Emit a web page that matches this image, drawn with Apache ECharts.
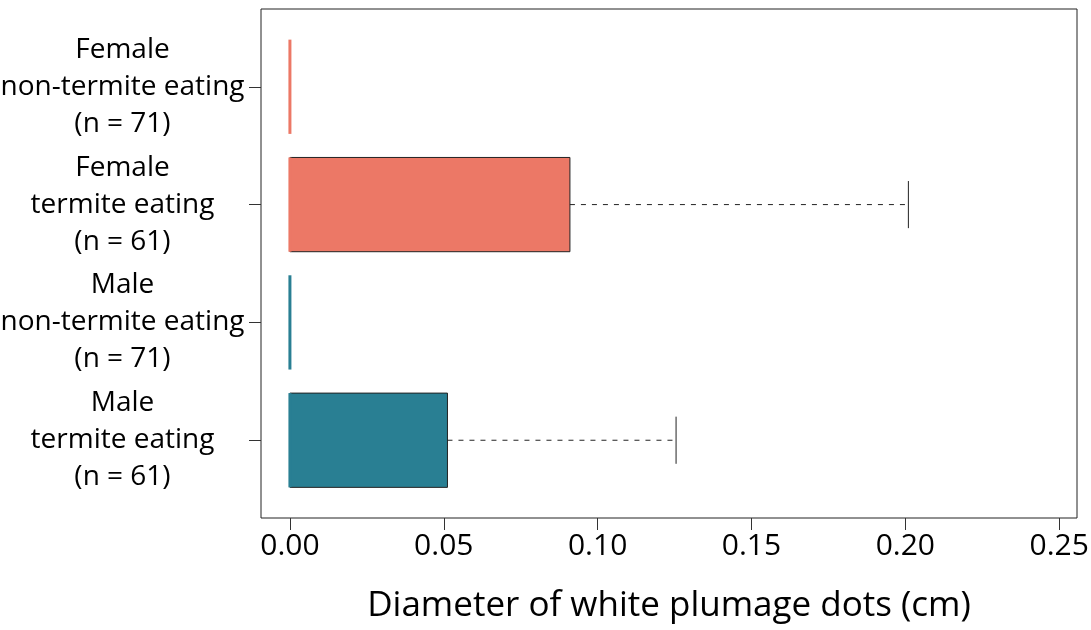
<!DOCTYPE html>
<html>
<head>
<meta charset="utf-8">
<script src="https://cdn.jsdelivr.net/npm/echarts@6/dist/echarts.min.js"></script>
<style>
  html, body { margin: 0; padding: 0; background: #fff; }
  #box_chart { width: 1091px; height: 630px; }
</style>
</head>
<body>
<div id="box_chart"></div>
<script>
// groups from top to bottom
var groupNames = ['Female|non-termite eating|(n = 71)', 'Female|termite eating|(n = 61)', 'Male|non-termite eating|(n = 71)', 'Male|termite eating|(n = 61)']
var groupPos = [1, 2, 3, 4]
var whiskerLow = [0, 0, 0, 0]
var boxLow = [0, 0, 0, 0]
var boxMedian = [0, 0, 0, 0]
var boxHigh = [0, 0.091, 0, 0.0512]
var whiskerHigh = [0, 0.201, 0, 0.1255]
var xTicks = [0, 0.05, 0.10, 0.15, 0.20, 0.25]
var groupColors = ['#EC7866', '#EC7866', '#297F93', '#297F93']

var FONT = 'Open Sans'

var seriesData = groupPos.map(function (p, i) {
  return [p, whiskerLow[i], boxLow[i], boxMedian[i], boxHigh[i], whiskerHigh[i]]
})

function renderBox (params, api) {
  var y = api.value(0)
  var wl = api.value(1)
  var q1 = api.value(2)
  var med = api.value(3)
  var q3 = api.value(4)
  var wh = api.value(5)
  var half = api.size([0, 0.4])[1]
  var c1 = api.coord([q1, y])
  var c3 = api.coord([q3, y])
  var cm = api.coord([med, y])
  var cwl = api.coord([wl, y])
  var cwh = api.coord([wh, y])
  var color = groupColors[params.dataIndex]
  var children = []
  // box
  if (q3 > q1) {
    children.push({
      type: 'rect',
      shape: { x: c1[0], y: c1[1] - half, width: c3[0] - c1[0], height: half * 2 },
      style: { fill: color, stroke: '#222', lineWidth: 1 }
    })
  }
  // 上须
  if (wh > q3) {
    children.push({
      type: 'line',
      shape: { x1: c3[0], y1: c3[1], x2: cwh[0], y2: cwh[1] },
      style: { stroke: '#222', lineWidth: 1, lineDash: [5, 6] }
    })
    children.push({
      type: 'line',
      shape: { x1: cwh[0], y1: cwh[1] - half / 2, x2: cwh[0], y2: cwh[1] + half / 2 },
      style: { stroke: '#222', lineWidth: 1 }
    })
  }
  // 下须
  if (wl < q1) {
    children.push({
      type: 'line',
      shape: { x1: c1[0], y1: c1[1], x2: cwl[0], y2: cwl[1] },
      style: { stroke: '#222', lineWidth: 1, lineDash: [5, 6] }
    })
  }
  // median
  children.push({
    type: 'line',
    shape: { x1: cm[0], y1: cm[1] - half, x2: cm[0], y2: cm[1] + half },
    style: { stroke: color, lineWidth: 3 }
  })
  return { type: 'group', children: children }
}

var myChart = echarts.init(document.getElementById('box_chart'))
var option = {
  animation: false,
  grid: {
    left: 261,
    top: 9,
    width: 816,
    height: 509,
    containLabel: false,
    outerBoundsMode: 'none',
    show: true,
    borderColor: '#222',
    borderWidth: 1,
    backgroundColor: '#fff'
  },
  xAxis: {
    type: 'value',
    min: -0.0094,
    max: 0.2558,
    splitLine: { show: false },
    axisLine: { show: false, onZero: false },
    axisTick: {
      show: true,
      length: 12,
      customValues: xTicks,
      lineStyle: { color: '#333' }
    },
    axisLabel: {
      customValues: xTicks,
      margin: 13,
      color: '#000',
      fontFamily: FONT,
      fontSize: 30,
      formatter: function (v) { return v.toFixed(2) }
    },
    name: 'Diameter of white plumage dots (cm)',
    nameLocation: 'middle',
    nameGap: 71,
    nameTextStyle: { color: '#000', fontFamily: FONT, fontSize: 35 }
  },
  yAxis: {
    type: 'value',
    inverse: true,
    min: 0.34,
    max: 4.66,
    splitLine: { show: false },
    axisLine: { show: false, onZero: false },
    axisTick: {
      show: true,
      length: 12,
      customValues: groupPos,
      lineStyle: { color: '#333' }
    },
    axisLabel: {
      customValues: groupPos,
      margin: 16,
      color: '#000',
      fontFamily: FONT,
      fontSize: 28,
      lineHeight: 37,
      formatter: function (v) {
        var idx = groupPos.indexOf(v)
        if (idx < 0) return ''
        return groupNames[idx].split('|').map(function (s) { return '{a|' + s + '}' }).join('\n')
      },
      rich: {
        a: { width: 245, align: 'center', fontFamily: FONT, fontSize: 28, lineHeight: 37, color: '#000' }
      }
    }
  },
  series: [{
    type: 'custom',
    renderItem: renderBox,
    encode: { x: [1, 2, 3, 4, 5], y: 0 },
    data: seriesData
  }]
}
myChart.setOption(option)
</script>
</body>
</html>
